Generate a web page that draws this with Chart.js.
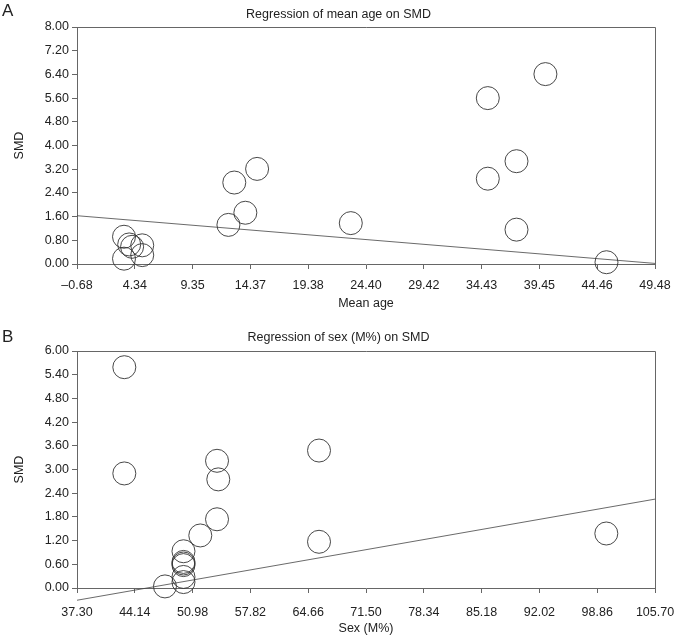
<!DOCTYPE html>
<html>
<head>
<meta charset="utf-8">
<script src="https://cdn.jsdelivr.net/npm/chart.js@4"></script>
<style>
  body { margin: 0; background: #fff; }
  canvas { display: block; }
</style>
</head>
<body>
<canvas id="chartA" width="677" height="319"></canvas>
<canvas id="chartB" width="677" height="319"></canvas>
<script>
// Panel A: mean age vs SMD
const ageX   = [3.40, 3.85, 4.10, 4.98, 4.98, 3.40, 12.46, 12.97, 13.93, 14.95, 23.08, 34.97, 34.97, 37.46, 37.46, 39.97, 45.27]
const ageSMD = [0.92, 0.66, 0.58, 0.63, 0.30, 0.18, 1.32, 2.75, 1.73, 3.21, 1.38, 5.60, 2.88, 3.47, 1.16, 6.41, 0.06]
const ageFitX = [-0.68, 49.48]
const ageFitY = [1.63, 0.02]
const ageXTicks = ["\u20130.68", "4.34", "9.35", "14.37", "19.38", "24.40", "29.42", "34.43", "39.45", "44.46", "49.48"]
const ageYTicks = ["0.00", "0.80", "1.60", "2.40", "3.20", "4.00", "4.80", "5.60", "6.40", "7.20", "8.00"]

// Panel B: sex (M%) vs SMD
const sexX   = [42.90, 42.90, 65.94, 65.94, 53.87, 54.02, 53.87, 51.89, 49.90, 49.90, 49.90, 49.90, 49.90, 49.90, 47.71, 99.94]
const sexSMD = [5.59, 2.90, 3.48, 1.17, 3.22, 2.75, 1.74, 1.33, 0.93, 0.66, 0.62, 0.58, 0.28, 0.15, 0.04, 1.38]
const sexFitX = [37.30, 105.70]
const sexFitY = [-0.31, 2.25]
const sexXTicks = ["37.30", "44.14", "50.98", "57.82", "64.66", "71.50", "78.34", "85.18", "92.02", "98.86", "105.70"]
const sexYTicks = ["0.00", "0.60", "1.20", "1.80", "2.40", "3.00", "3.60", "4.20", "4.80", "5.40", "6.00"]

const FONT = "'Liberation Sans', Arial, Helvetica, sans-serif"
const TEXT = "#222"
const AXIS = "#666"

const toNum = (s) => parseFloat(s.replace("\u2013", "-"))
const pairs = (xs, ys) => xs.map((x, i) => ({ x: x, y: ys[i] }))

const framePlugin = {
  id: "frame",
  afterDraw(chart) {
    const { ctx, chartArea: { left, top, right, bottom } } = chart
    ctx.save()
    ctx.strokeStyle = AXIS
    ctx.lineWidth = 1
    ctx.beginPath()
    ctx.moveTo(left, top + 0.5)
    ctx.lineTo(right + 0.5, top + 0.5)
    ctx.lineTo(right + 0.5, bottom)
    ctx.stroke()
    ctx.restore()
  }
}

const panelTitle = {
  id: "panelTitle",
  afterDraw(chart, args, opts) {
    const { ctx, width } = chart
    ctx.save()
    ctx.fillStyle = TEXT
    ctx.textBaseline = "middle"
    ctx.textAlign = "left"
    ctx.font = "17px " + FONT
    ctx.fillText(opts.letter, 2, opts.letterY)
    ctx.textAlign = "center"
    ctx.font = "12.5px " + FONT
    ctx.fillText(opts.text, width / 2, opts.titleY)
    ctx.restore()
  }
}

function makeChart(id, p) {
  const xVals = p.xTicks.map(toNum)
  const yVals = p.yTicks.map(toNum)
  return new Chart(document.getElementById(id), {
    type: "scatter",
    data: {
      datasets: [
        {
          data: pairs(p.xs, p.ys),
          pointRadius: 11.5,
          pointHoverRadius: 11.5,
          pointBackgroundColor: "rgba(0,0,0,0)",
          pointBorderColor: "#333",
          pointBorderWidth: 0.9,
          clip: false,
        },
        {
          data: pairs(p.fitX, p.fitY),
          showLine: true,
          pointRadius: 0,
          borderColor: "#444",
          borderWidth: 0.8,
          clip: false,
        },
      ],
    },
    options: {
      responsive: false,
      animation: false,
      layout: { padding: { top: p.areaTop, right: 22, left: 0, bottom: 0 } },
      plugins: {
        legend: { display: false },
        tooltip: { enabled: false },
        panelTitle: { letter: p.letter, letterY: p.letterY, text: p.title, titleY: p.titleY },
      },
      scales: {
        x: {
          type: "linear",
          min: xVals[0],
          max: xVals[xVals.length - 1],
          border: { display: true, color: AXIS, width: 1 },
          grid: { drawOnChartArea: false, drawTicks: true, tickLength: 5, color: AXIS },
          ticks: {
            autoSkip: false,
            maxRotation: 0,
            padding: p.xTickPad,
            color: TEXT,
            font: { family: FONT, size: 12.5 },
            callback: (v, i) => p.xTicks[i],
          },
          afterBuildTicks: (scale) => { scale.ticks = xVals.map(v => ({ value: v })) },
          afterFit: (scale) => {
            scale.height = p.xHeight
            scale.paddingLeft = 0
            scale.paddingRight = 0
          },
          title: {
            display: true,
            text: p.xTitle,
            color: TEXT,
            font: { family: FONT, size: 12.5 },
            padding: { top: 0, bottom: p.xTitlePad },
          },
        },
        y: {
          type: "linear",
          min: yVals[0],
          max: yVals[yVals.length - 1],
          border: { display: true, color: AXIS, width: 1 },
          grid: { drawOnChartArea: false, drawTicks: true, tickLength: 5, color: AXIS },
          ticks: {
            padding: 3,
            color: TEXT,
            font: { family: FONT, size: 12.5 },
            callback: (v, i) => p.yTicks[i],
          },
          afterBuildTicks: (scale) => { scale.ticks = yVals.map(v => ({ value: v })) },
          afterFit: (scale) => {
            scale.width = 77
            scale.paddingTop = 0
            scale.paddingBottom = 0
          },
          title: {
            display: true,
            text: "SMD",
            color: TEXT,
            font: { family: FONT, size: 12.5 },
            padding: { top: 12, bottom: 0 },
          },
        },
      },
    },
    plugins: [framePlugin, panelTitle],
  })
}

makeChart("chartA", {
  xs: ageX, ys: ageSMD, fitX: ageFitX, fitY: ageFitY,
  xTicks: ageXTicks, yTicks: ageYTicks,
  letter: "A", letterY: 11, title: "Regression of mean age on SMD", titleY: 15,
  xTitle: "Mean age", areaTop: 27, xHeight: 55, xTickPad: 9, xTitlePad: 8,
})

makeChart("chartB", {
  xs: sexX, ys: sexSMD, fitX: sexFitX, fitY: sexFitY,
  xTicks: sexXTicks, yTicks: sexYTicks,
  letter: "B", letterY: 18, title: "Regression of sex (M%) on SMD", titleY: 19,
  xTitle: "Sex (M%)", areaTop: 32, xHeight: 50, xTickPad: 12, xTitlePad: 2,
})
</script>
</body>
</html>
